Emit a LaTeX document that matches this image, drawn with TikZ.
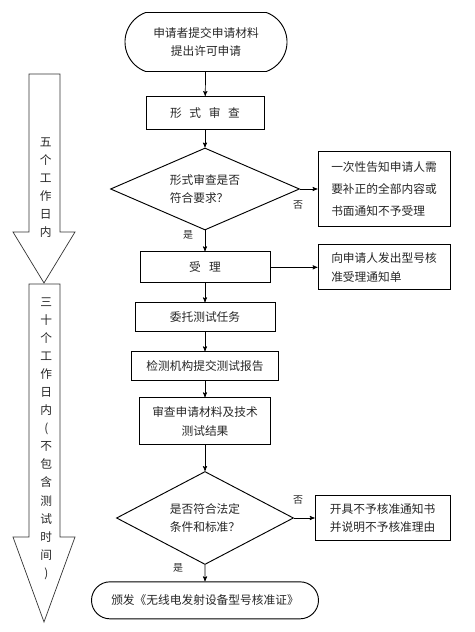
\documentclass[tikz,border=0pt]{standalone}
\usepackage{fontspec}
\setmainfont{Noto Sans CJK SC}
\usetikzlibrary{arrows,positioning,shapes.geometric,shapes.misc}
\tikzset{every node/.style={ % Text of every node
            font=\fontsize{10}{16}\selectfont,
            text=black!85},
        terminal/.style={ % Start and end of the procedure
            draw, thick,
            rounded rectangle,
            inner sep=0pt},
        process/.style={ % Steps of the procedure
            draw, thick,
            rectangle,
            inner sep=0pt},
        decision/.style={ % Questions
            draw, thick,
            diamond, aspect=2.2,
            inner sep=0pt},
        outcome/.style={ % Boxes on the right
            draw, thick,
            rectangle, align=left,
            inner sep=0pt},
        answer/.style={font=\fontsize{8.5}{10}\selectfont},
        period/.style={ % Text in the big arrows
            align=center,
            font=\fontsize{10}{15.4}\selectfont},
        bigarrow/.style={draw, semithick, black!80},
        every edge/.style={ % Sets the properties for each transition
            draw,
            ->,>=stealth', % Makes edges directed with bold arrowheads
            semithick}
        }
\begin{document}
\begin{tikzpicture}
    \useasboundingbox (0,0) rectangle (14.22,18.96);
    % time span arrows
    \draw[bigarrow] (0.87,16.74) -- (1.80,16.74) -- (1.80,12.00) -- (2.25,12.00)
        -- (1.32,10.47) -- (0.39,12.00) -- (0.87,12.00) -- cycle;
    \draw[bigarrow] (0.87,10.44) -- (1.80,10.44) -- (1.80,2.85) -- (2.25,2.85)
        -- (1.32,0.30) -- (0.39,2.85) -- (0.87,2.85) -- cycle;
    \node[period] (five) at (1.37,13.33) {五\\个\\工\\作\\日\\内};
    \node[period] (thirty) at (1.39,5.80)
        {三\\十\\个\\工\\作\\日\\内\\(\\不\\包\\含\\测\\试\\时\\间\\)};

    % main column
    \node[terminal, rounded rectangle arc length=140, minimum width=4.86cm, minimum height=1.77cm, align=center]
        (submit) at (6.18,17.70) {申请者提交申请材料\\提出许可申请};
    \node[process, minimum width=3.54cm, minimum height=0.99cm]
        (formal) at (6.15,15.57) {形\hspace{.65em}式\hspace{.65em}审\hspace{.65em}查};
    \node[decision, minimum width=5.67cm, minimum height=2.46cm, align=left]
        (check1) at (6.15,13.29) {形式审查是否\\符合要求？};
    \node[process, minimum width=3.90cm, minimum height=0.93cm]
        (accept) at (6.15,10.94) {受\hspace{.7em}理};
    \node[process, minimum width=4.20cm, minimum height=0.87cm]
        (entrust) at (6.15,9.44) {委托测试任务};
    \node[process, minimum width=4.41cm, minimum height=0.87cm]
        (report) at (6.15,7.97) {检测机构提交测试报告};
    \node[process, minimum width=3.93cm, minimum height=1.41cm, align=center]
        (review) at (6.15,6.32) {审查申请材料及技术\\测试结果};
    \node[decision, minimum width=5.31cm, minimum height=2.79cm, align=left]
        (check2) at (6.15,3.42) {是否符合法定\\条件和标准？};
    \node[terminal, minimum width=6.81cm, minimum height=1.11cm]
        (issue) at (6.15,0.95) {颁发《无线电发射设备型号核准证》};

    % boxes on the right
    \node[outcome, minimum width=3.96cm, minimum height=2.25cm, font=\fontsize{10}{18.5}\selectfont]
        (notify) at (11.52,13.29) {一次性告知申请人需\\要补正的全部内容或\\书面通知不予受理};
    \node[outcome, minimum width=3.96cm, minimum height=1.35cm]
        (receipt) at (11.52,10.94) {向申请人发出型号核\\准受理通知单};
    \node[outcome, minimum width=4.05cm, minimum height=1.35cm]
        (refuse) at (11.48,3.42) {开具不予核准通知书\\并说明不予核准理由};

    % answers
    \node[answer] (no1) at (8.94,12.81) {否};
    \node[answer] (yes1) at (5.64,11.91) {是};
    \node[answer] (no2) at (8.94,3.96) {否};
    \node[answer] (yes2) at (5.34,1.92) {是};

    \path (submit) edge (formal)
          (formal) edge (check1)
          (check1) edge (accept)
          (check1.east) edge (notify.west)
          (accept) edge (entrust)
          (accept) edge (receipt)
          (entrust) edge (report)
          (report) edge (review)
          (review) edge (check2)
          (check2.east) edge (refuse.west)
          (check2) edge (issue);
\end{tikzpicture}
\end{document}
